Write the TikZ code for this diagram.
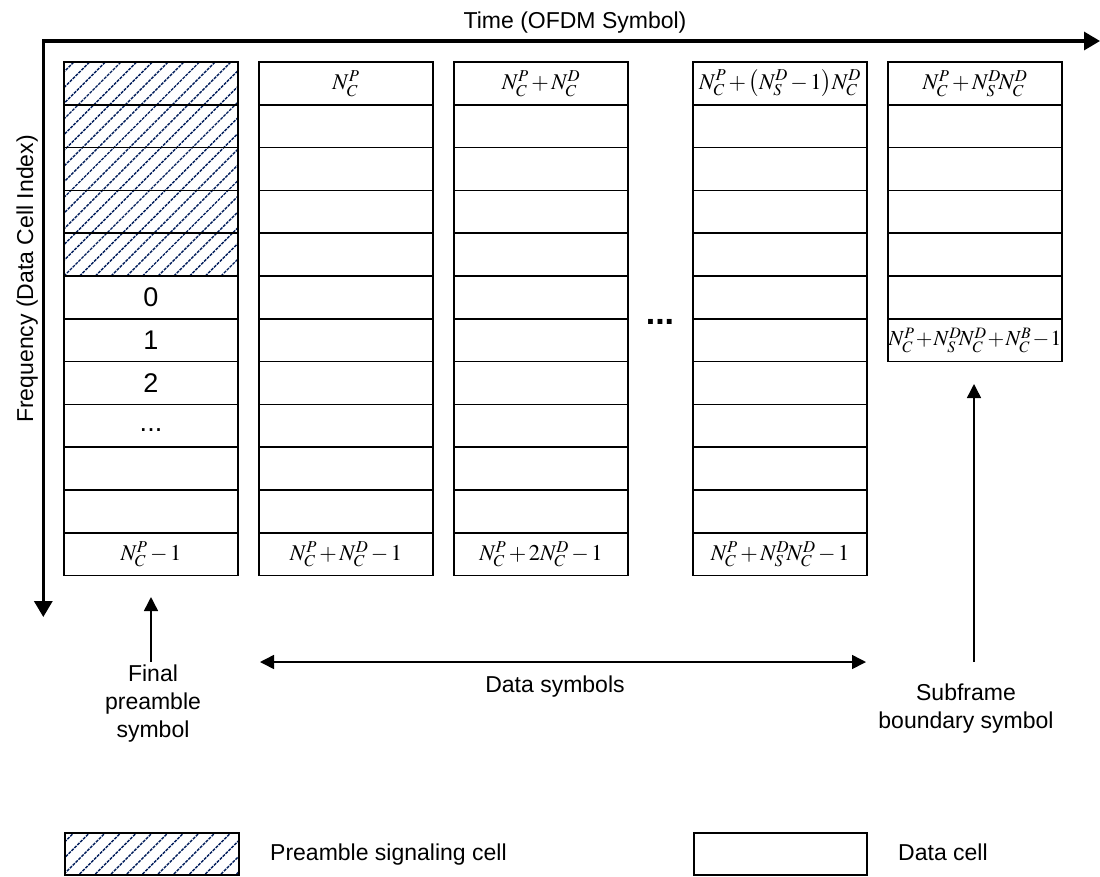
\documentclass[tikz,border=0pt]{standalone}
\usepackage{mathptmx}
\usepackage[no-math]{fontspec}
\setmainfont{Liberation Sans}
\usetikzlibrary{arrows.meta}
\definecolor{navy}{RGB}{0,28,90}
\newcommand{\tightops}{\medmuskip=2mu\relax}
\newcommand{\tighterops}{\medmuskip=1mu\relax}
\begin{document}
\begin{tikzpicture}[x=1pt,y=-1pt,
  cell/.style={draw, line width=1.6pt, minimum width=174pt, minimum height=42.8pt, inner sep=0pt, outer sep=0pt, anchor=north west},
  mlab/.style={font=\fontsize{22.5}{26}\selectfont\tightops, inner sep=0pt},
  dlab/.style={font=\fontsize{27}{30}\selectfont, inner sep=0pt},
  txt/.style={font=\fontsize{23}{28}\selectfont, inner sep=0pt},
  hatch/.style={navy, line width=1.4pt, dash pattern=on 3pt off 1.1pt},
  axis/.style={line width=3.3pt, line join=miter},
  ptr/.style={line width=1.5pt, -{Triangle[length=14pt,width=14pt]}},
  dbl/.style={line width=1.5pt, {Triangle[length=14pt,width=14pt]}-{Triangle[length=14pt,width=14pt]}}
]
\useasboundingbox (0,0) rectangle (1100,876);

% hatching of preamble signalling cells
\begin{scope}
  \clip (64,62) rectangle (238,276);
  \foreach \i in {-16,...,12}{
    \draw[hatch] ({64+\i*15.7},276) -- ++(230,-230);
  }
\end{scope}

% cells
\foreach \c/\x/\n in {1/64/12,2/259/12,3/454/12,4/693/12,5/888/7}{
  \foreach \r in {1,...,\n}{
    \node[cell] (c\c r\r) at (\x,{62+(\r-1)*42.8}) {};
  }
}

% labels in cells
\node[dlab] (l16) at (c1r6) {0};
\node[dlab] (l17) at (c1r7) {1};
\node[dlab] (l18) at (c1r8) {2};
\node[dlab, yshift=-4pt] (l19) at (c1r9) {...};
\node[mlab] (l112) at (c1r12) {$N_C^P-1$};
\node[mlab] (l21) at (c2r1) {$N_C^P$};
\node[mlab] (l212) at (c2r12) {$N_C^P+N_C^D-1$};
\node[mlab] (l31) at (c3r1) {$N_C^P+N_C^D$};
\node[mlab] (l312) at (c3r12) {$N_C^P+2N_C^D-1$};
\node[mlab] (l41) at (c4r1) {$N_C^P+\left(N_S^D-1\right)\!N_C^D$};
\node[mlab] (l412) at (c4r12) {$N_C^P+N_S^D\!N_C^D-1$};
\node[mlab] (l51) at (c5r1) {$N_C^P+N_S^D\!N_C^D$};
\node[mlab, font=\fontsize{21.5}{25}\selectfont\tighterops] (l57) at (c5r7) {$N_C^P+N_S^D\!N_C^D+N_C^B-1$};

% ellipsis between columns
\node[font=\fontsize{34}{34}\bfseries\selectfont, inner sep=0pt, yshift=-3pt] (dots) at (660,319) {...};

% axes
\coordinate (O) at (43.3,41);
\coordinate (xend) at (1100,41);
\coordinate (yend) at (43.3,617);
\draw[axis, {Triangle[length=16pt,width=18pt]}-{Triangle[length=16pt,width=18pt]}] (yend) -- (O) -- (xend);
\node[txt, anchor=base] (tlab) at (575,28) {Time (OFDM Symbol)};
\node[txt, anchor=base, rotate=90] (flab) at (33,279) {Frequency (Data Cell Index)};

% annotations
\coordinate (finS) at (151,662);
\coordinate (finT) at (151,597);
\draw[ptr] (finS) -- (finT);
\node[txt, anchor=north, align=center] (fin) at (153,665) {Final\\preamble\\symbol};

\coordinate (dsL) at (260,662);
\coordinate (dsR) at (866,662);
\draw[dbl] (dsL) -- (dsR);
\node[txt, anchor=base] (ds) at (555,692) {Data symbols};

\coordinate (sbS) at (974,662);
\coordinate (sbT) at (974,384);
\draw[ptr] (sbS) -- (sbT);
\node[txt, anchor=north, align=center] (sb) at (966,684) {Subframe\\boundary symbol};

% legend
\begin{scope}
  \clip (64,832) rectangle (238,874);
  \foreach \i in {-4,...,12}{
    \draw[hatch] ({64+\i*15.7},874) -- ++(60,-60);
  }
\end{scope}
\node[draw, line width=1.6pt, minimum width=174pt, minimum height=42pt, inner sep=0pt, anchor=north west] (legP) at (64,832) {};
\node[txt, anchor=base west] (legPt) at (270,860) {Preamble signaling cell};
\node[draw, line width=1.6pt, minimum width=173pt, minimum height=42pt, inner sep=0pt, anchor=north west] (legD) at (693,832) {};
\node[txt, anchor=base west] (legDt) at (898,860) {Data cell};
\end{tikzpicture}
\end{document}
